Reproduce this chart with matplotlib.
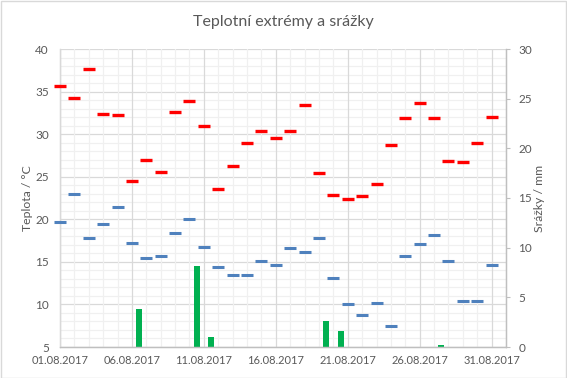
import matplotlib
matplotlib.use("Agg")
import matplotlib.pyplot as plt
import numpy as np
import pandas as pd

plt.rcParams["font.family"] = ["Lato", "DejaVu Sans"]

# denni data za srpen 2017
dates = pd.date_range("2017-08-01", "2017-08-31", freq="D")
t_max = [35.7, 34.2, 37.7, 32.4, 32.2, 24.5, 27.0, 25.5, 32.6, 33.9,
         30.9, 23.5, 26.2, 29.0, 30.4, 29.5, 30.4, 33.4, 25.4, 22.8,
         22.4, 22.7, 24.2, 28.7, 31.9, 33.7, 31.9, 26.9, 26.7, 29.0, 32.0]
t_min = [19.7, 23.0, 17.8, 19.5, 21.5, 17.2, 15.5, 15.7, 18.4, 20.0,
         16.8, 14.4, 13.4, 13.4, 15.1, 14.6, 16.6, 16.2, 17.8, 13.1,
         10.0, 8.8, 10.2, 7.5, 15.7, 17.1, 18.2, 15.1, 10.4, 10.4, 14.6]
rain_days = ["2017-08-06", "2017-08-10", "2017-08-11", "2017-08-19",
             "2017-08-20", "2017-08-27"]
rain_mm = [3.8, 8.2, 1.0, 2.6, 1.6, 0.2]

title = "Teplotní extrémy a srážky"
x_tick_labels = ["01.08.2017", "06.08.2017", "11.08.2017", "16.08.2017",
                 "21.08.2017", "26.08.2017", "31.08.2017"]

txt = "#595959"
grid_major = "#D9D9D9"
grid_minor = "#F0F0F0"
axis_col = "#BFBFBF"

fig = plt.figure(figsize=(5.67, 3.78), dpi=100)
ax = fig.add_axes([60 / 567, 1 - 347 / 378, 446 / 567, 298 / 378])
ax2 = ax.twinx()

x0 = pd.Timestamp("2017-08-01")
x1 = pd.Timestamp("2017-09-01")

# srazky - sloupce mezi dny
rain_x = pd.to_datetime(rain_days) + pd.Timedelta(hours=12)
ax2.bar(rain_x, rain_mm, width=0.42, color="#00B050", zorder=2)

ax.plot(dates, t_max, ls="none", marker="_", ms=8.8, mew=2.4,
        color="#FF0000", zorder=5, clip_on=False)
ax.plot(dates, t_min, ls="none", marker="_", ms=8.8, mew=2.2,
        color="#4F81BD", zorder=5, clip_on=False)
ax.set_zorder(ax2.get_zorder() + 1)
ax.patch.set_visible(False)

ax.set_xlim(x0, x1)
ax.set_ylim(5, 40)
ax2.set_ylim(0, 30)

ax.set_xticks(dates[::5])
ax.set_xticklabels(x_tick_labels)
ax.set_xticks(list(dates) + [x1], minor=True)
ax.set_yticks(np.arange(5, 41, 5))
ax.set_yticks(np.arange(5, 41, 1), minor=True)
ax2.set_yticks(np.arange(0, 31, 5))

ax2.grid(False)
ax2.set_axisbelow(True)
# mrizka kreslena do spodni osy (ax2)
for v in np.arange(5, 41, 1):
    yv = (v - 5) / 35 * 30
    ax2.axhline(yv, color=grid_major if v % 5 == 0 else grid_minor,
                lw=0.9, zorder=0)
for i, d in enumerate(list(dates) + [x1]):
    ax2.axvline(d, color=grid_major if i % 5 == 0 else grid_minor,
                lw=0.9, zorder=0)

ax.tick_params(axis="x", which="both", length=0, pad=6, labelsize=8,
               labelcolor=txt)
ax.tick_params(axis="y", which="both", length=0, pad=8, labelsize=8.5,
               labelcolor=txt)
ax2.tick_params(axis="y", which="major", length=3, width=0.8, color=axis_col,
                pad=6, labelsize=8.5, labelcolor=txt)
ax2.tick_params(axis="x", which="both", length=0)

for a in (ax, ax2):
    a.spines["top"].set_visible(False)
    a.spines["left"].set_color(grid_major)
    a.spines["right"].set_color(axis_col)
    a.spines["bottom"].set_color(axis_col)
    for s in a.spines.values():
        s.set_linewidth(0.9)

ax.set_ylabel("Teplota / °C", color=txt, fontsize=8.8, labelpad=1.5)
ax2.set_ylabel("Srážky / mm", color=txt, fontsize=8.8, labelpad=1)

fig.suptitle(title, x=(60 + 506) / 2 / 567, y=1 - 22 / 378, va="center",
             fontsize=11.5, color=txt)

fig.patches.append(plt.Rectangle((0.001, 0.001), 0.997, 0.996,
                                 transform=fig.transFigure, fill=False,
                                 edgecolor=grid_major, lw=1))

fig.savefig("out.png", dpi=100)
